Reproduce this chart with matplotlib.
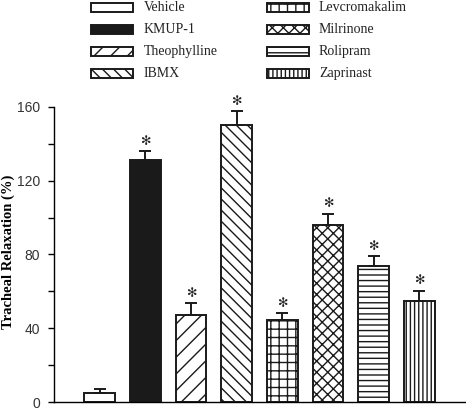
import matplotlib
matplotlib.use("Agg")
import matplotlib.pyplot as plt
from matplotlib.patches import Rectangle
import numpy as np

categories = ["Vehicle", "KMUP-1", "Theophylline", "IBMX",
              "Levcromakalim", "Milrinone", "Rolipram", "Zaprinast"]
means = [5, 131.5, 47.3, 150.4, 44.3, 95.8, 73.5, 55.0]
errors = [2.2, 4.5, 6.2, 7.2, 3.8, 6.3, 5.5, 5.4]
significant = [False, True, True, True, True, True, True, True]
yticks_major = [0, 40, 80, 120, 160]

facecolors = ["white", "#1a1a1a", "white", "white", "white", "white", "white", "white"]
hatches = [None, None, "//", "\\\\\\", "++", "xxx", "---", "||||"]

plt.rcParams["hatch.linewidth"] = 1.0

fig = plt.figure(figsize=(4.66, 4.09), dpi=100)
ax = fig.add_axes([54/466, 7/409, 411/466, 295/409])

x = np.arange(len(categories))
for i in range(len(categories)):
    ax.bar(x[i], means[i], width=0.67, color=facecolors[i], edgecolor="#1a1a1a",
           linewidth=1.4, hatch=hatches[i], zorder=2)
    ax.errorbar(x[i], means[i], yerr=[[0], [errors[i]]], fmt="none",
                ecolor="#1a1a1a", elinewidth=1.4, capsize=4.5, capthick=1.4,
                zorder=3, clip_on=False)
    if significant[i]:
        ax.text(x[i], means[i] + errors[i] + 1.8, "\u273B", ha="center", va="bottom",
                fontsize=9, family="DejaVu Sans", color="#222222", clip_on=False)

ax.set_xlim(-1, 8)
ax.set_ylim(0, 160)
ax.set_yticks(yticks_major)
ax.set_yticks([20, 60, 100, 140], minor=True)
ax.set_xticks([])
for s in ["top", "right"]:
    ax.spines[s].set_visible(False)
ax.spines["left"].set_linewidth(1.0)
ax.spines["bottom"].set_linewidth(1.0)
ax.tick_params(axis="y", which="both", direction="out", length=4, width=1.0,
               pad=6, labelcolor="#333333")
for lab in ax.get_yticklabels():
    lab.set_family("Liberation Sans")
    lab.set_fontsize(10)
ax.set_ylabel("Tracheal Relaxation (%)", family="Liberation Serif",
              fontweight="bold", fontsize=10.5)
ax.yaxis.set_label_coords(-0.094, 0.51)

# legend drawn manually in figure pixels
W, H = 466, 409
col_x = [91, 267]
text_x = [144, 319]
row_y = [7.5, 29.5, 51.5, 73.5]
pw, ph = 42, 9.5
for i, name in enumerate(categories):
    c, r = divmod(i, 4)
    px, py = col_x[c], row_y[r]
    rect = Rectangle((px / W, 1 - (py + ph / 2) / H), pw / W, ph / H,
                     transform=fig.transFigure, facecolor=facecolors[i],
                     edgecolor="#1a1a1a", linewidth=1.4, hatch=hatches[i])
    fig.patches.append(rect)
    fig.text(text_x[c] / W, 1 - py / H, name, family="Liberation Serif",
             fontsize=10, va="center", ha="left", color="#222222")

fig.savefig("out.png", dpi=100)
